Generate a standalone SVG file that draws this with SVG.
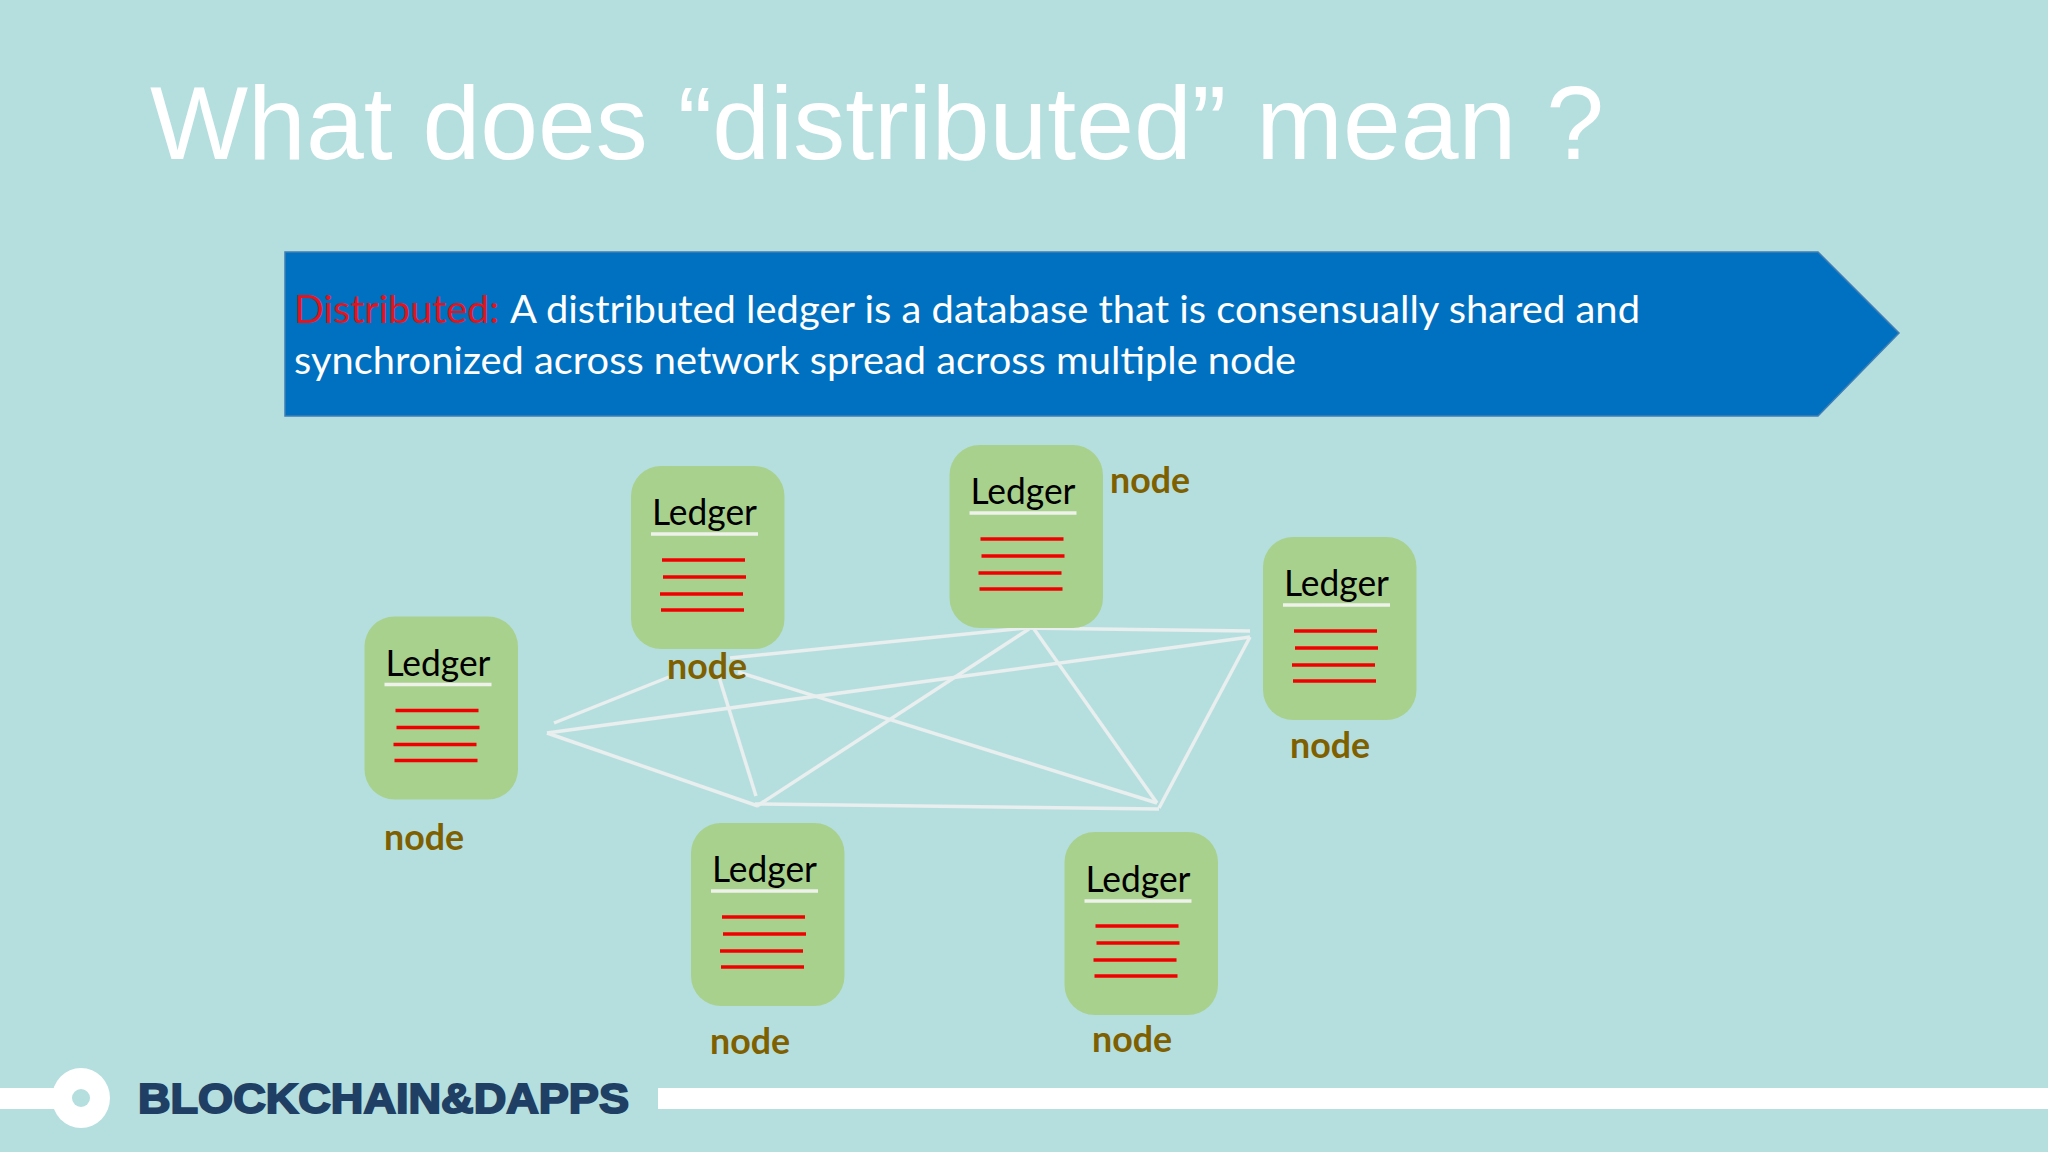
<svg xmlns="http://www.w3.org/2000/svg" width="2048" height="1152" viewBox="0 0 2048 1152">
<style>
.box{fill:#a9d18e}
.led{font-family:"Lato","Liberation Sans",sans-serif;font-size:37px;fill:#000}
.ul{stroke:#eef2ea;stroke-width:3.5;fill:none}
.red{stroke:#f00000;stroke-width:3.5;fill:none}
.nl{font-family:"Lato","Liberation Sans",sans-serif;font-size:36px;font-weight:700;fill:#7f6000}
.c{stroke:#e9eeee;stroke-width:3.5;fill:none}
.ban{font-family:"Lato","Liberation Sans",sans-serif;font-size:39.5px;fill:#fff}
</style>
<rect width="2048" height="1152" fill="#b5dfde"/>
<text id="title" x="150" y="159" font-family="'Liberation Sans',Arial,sans-serif" font-size="104" fill="#fff" word-spacing="1" textLength="1454" lengthAdjust="spacingAndGlyphs">What does “distributed” mean ?</text>
<g id="banner">
<polygon points="285,252 1818,252 1899,333 1818,416 285,416" fill="#0070c0" stroke="#3f7fb5" stroke-width="1.5"/>
<text class="ban" x="294" y="323" style="fill:#e2141e" textLength="205" lengthAdjust="spacingAndGlyphs">Distributed:</text>
<text class="ban" x="510" y="323" textLength="1130" lengthAdjust="spacingAndGlyphs">A distributed ledger is a database that is consensually shared and</text>
<text class="ban" x="294" y="374" textLength="1002" lengthAdjust="spacingAndGlyphs">synchronized across network spread across multiple node</text>
</g>
<g id="connectors">
<line class="c" x1="554" y1="723" x2="669" y2="677"/>
<line class="c" x1="730" y1="658" x2="1025" y2="628"/>
<line class="c" x1="547" y1="733" x2="1250" y2="637"/>
<line class="c" x1="547" y1="733" x2="758" y2="806"/>
<line class="c" x1="719" y1="677" x2="756" y2="796"/>
<line class="c" x1="738" y1="672" x2="1157" y2="803"/>
<line class="c" x1="757" y1="806" x2="1029" y2="629"/>
<line class="c" x1="755" y1="804" x2="1159" y2="809"/>
<line class="c" x1="1034" y1="629" x2="1157" y2="803"/>
<line class="c" x1="1022" y1="628" x2="1250" y2="631"/>
<line class="c" x1="1250" y1="637" x2="1159" y2="808"/>
</g>
<g id="node-a" transform="translate(364.5,616.5)">
<rect class="box" width="153.5" height="183" rx="30"/>
<text class="led" x="21" y="59" textLength="105" lengthAdjust="spacingAndGlyphs">Ledger</text>
<line class="ul" x1="20" y1="68" x2="127" y2="68"/>
<line class="red" x1="31" y1="94" x2="114" y2="94"/><line class="red" x1="32" y1="111" x2="115" y2="111"/><line class="red" x1="29" y1="128" x2="112" y2="128"/><line class="red" x1="30" y1="144" x2="113" y2="144"/>
<text class="nl" x="19.5" y="233" textLength="80" lengthAdjust="spacingAndGlyphs">node</text>
</g>
<g id="node-b" transform="translate(631,466)">
<rect class="box" width="153.5" height="183" rx="30"/>
<text class="led" x="21" y="59" textLength="105" lengthAdjust="spacingAndGlyphs">Ledger</text>
<line class="ul" x1="20" y1="68" x2="127" y2="68"/>
<line class="red" x1="31" y1="94" x2="114" y2="94"/><line class="red" x1="32" y1="111" x2="115" y2="111"/><line class="red" x1="29" y1="128" x2="112" y2="128"/><line class="red" x1="30" y1="144" x2="113" y2="144"/>
<text class="nl" x="36" y="213" textLength="80" lengthAdjust="spacingAndGlyphs">node</text>
</g>
<g id="node-c" transform="translate(949.5,445)">
<rect class="box" width="153.5" height="183" rx="30"/>
<text class="led" x="21" y="59" textLength="105" lengthAdjust="spacingAndGlyphs">Ledger</text>
<line class="ul" x1="20" y1="68" x2="127" y2="68"/>
<line class="red" x1="31" y1="94" x2="114" y2="94"/><line class="red" x1="32" y1="111" x2="115" y2="111"/><line class="red" x1="29" y1="128" x2="112" y2="128"/><line class="red" x1="30" y1="144" x2="113" y2="144"/>
<text class="nl" x="160.5" y="48" textLength="80" lengthAdjust="spacingAndGlyphs">node</text>
</g>
<g id="node-d" transform="translate(1263,537)">
<rect class="box" width="153.5" height="183" rx="30"/>
<text class="led" x="21" y="59" textLength="105" lengthAdjust="spacingAndGlyphs">Ledger</text>
<line class="ul" x1="20" y1="68" x2="127" y2="68"/>
<line class="red" x1="31" y1="94" x2="114" y2="94"/><line class="red" x1="32" y1="111" x2="115" y2="111"/><line class="red" x1="29" y1="128" x2="112" y2="128"/><line class="red" x1="30" y1="144" x2="113" y2="144"/>
<text class="nl" x="27" y="221" textLength="80" lengthAdjust="spacingAndGlyphs">node</text>
</g>
<g id="node-e" transform="translate(691,823)">
<rect class="box" width="153.5" height="183" rx="30"/>
<text class="led" x="21" y="59" textLength="105" lengthAdjust="spacingAndGlyphs">Ledger</text>
<line class="ul" x1="20" y1="68" x2="127" y2="68"/>
<line class="red" x1="31" y1="94" x2="114" y2="94"/><line class="red" x1="32" y1="111" x2="115" y2="111"/><line class="red" x1="29" y1="128" x2="112" y2="128"/><line class="red" x1="30" y1="144" x2="113" y2="144"/>
<text class="nl" x="19" y="230.5" textLength="80" lengthAdjust="spacingAndGlyphs">node</text>
</g>
<g id="node-f" transform="translate(1064.5,832)">
<rect class="box" width="153.5" height="183" rx="30"/>
<text class="led" x="21" y="60" textLength="105" lengthAdjust="spacingAndGlyphs">Ledger</text>
<line class="ul" x1="20" y1="69" x2="127" y2="69"/>
<line class="red" x1="31" y1="94" x2="114" y2="94"/><line class="red" x1="32" y1="111" x2="115" y2="111"/><line class="red" x1="29" y1="128" x2="112" y2="128"/><line class="red" x1="30" y1="144" x2="113" y2="144"/>
<text class="nl" x="27.5" y="220" textLength="80" lengthAdjust="spacingAndGlyphs">node</text>
</g>
<g id="footer">
<rect x="0" y="1088" width="60" height="21" fill="#fff"/>
<rect x="658" y="1088" width="1390" height="21" fill="#fff"/>
<ellipse cx="81" cy="1098" rx="29" ry="30" fill="#fff"/>
<circle cx="81" cy="1098" r="9" fill="#b5dfde"/>
<text x="138" y="1113" font-family="'Liberation Sans',Arial,sans-serif" font-size="42" font-weight="700" fill="#1f3f64" stroke="#1f3f64" stroke-width="2" textLength="491" lengthAdjust="spacingAndGlyphs">BLOCKCHAIN&amp;DAPPS</text>
</g>
</svg>
